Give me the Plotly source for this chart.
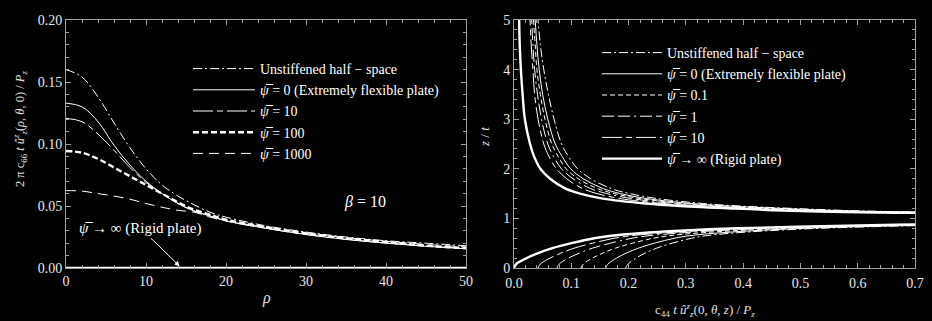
import plotly.graph_objects as go

# ---------------- Left panel data ----------------
rho = [0, 2, 4, 6, 8, 10, 12, 14, 16, 18, 20, 25, 30, 35, 40, 45, 50]
left_unstiffened = [0.160, 0.154, 0.138, 0.117, 0.097, 0.080, 0.067, 0.058, 0.051, 0.045, 0.041, 0.034, 0.029, 0.025, 0.022, 0.020, 0.018]
left_psi0 = [0.133, 0.130, 0.118, 0.099, 0.083, 0.070, 0.060, 0.052, 0.046, 0.042, 0.038, 0.032, 0.027, 0.023, 0.020, 0.0175, 0.0155]
left_psi10 = [0.1207, 0.118, 0.108, 0.095, 0.081, 0.069, 0.060, 0.052, 0.046, 0.042, 0.038, 0.032, 0.027, 0.0232, 0.0202, 0.0178, 0.0158]
left_psi100 = [0.0944, 0.093, 0.088, 0.081, 0.074, 0.067, 0.060, 0.053, 0.047, 0.043, 0.039, 0.033, 0.028, 0.024, 0.021, 0.018, 0.016]
left_psi1000 = [0.0624, 0.062, 0.060, 0.058, 0.0555, 0.052, 0.049, 0.0465, 0.045, 0.041, 0.038, 0.033, 0.028, 0.0245, 0.0215, 0.019, 0.017]
left_rigid = [0.0] * len(rho)

# ---------------- Right panel data ----------------
z_upper = [1.1, 1.15, 1.2, 1.25, 1.3, 1.4, 1.5, 1.6, 1.8, 2.0, 2.25, 2.5, 3.0, 3.5, 4.0, 4.5, 5.0]
z_lower = [0.0, 0.05, 0.1, 0.2, 0.3, 0.4, 0.5, 0.6, 0.65, 0.7, 0.75, 0.8, 0.85, 0.88, 0.9]

up_rigid = [0.78, 0.50, 0.38, 0.29, 0.23, 0.155, 0.115, 0.090, 0.063, 0.046, 0.035, 0.028, 0.019, 0.015, 0.012, 0.010, 0.009]
up_psi10 = [0.81, 0.53, 0.41, 0.32, 0.26, 0.185, 0.145, 0.120, 0.092, 0.074, 0.061, 0.052, 0.042, 0.036, 0.033, 0.030, 0.028]
up_psi1 = [0.83, 0.55, 0.43, 0.34, 0.28, 0.205, 0.162, 0.134, 0.103, 0.083, 0.069, 0.059, 0.048, 0.041, 0.036, 0.033, 0.031]
up_psi01 = [0.85, 0.57, 0.45, 0.36, 0.295, 0.220, 0.175, 0.146, 0.112, 0.091, 0.077, 0.066, 0.054, 0.046, 0.040, 0.037, 0.034]
up_psi0 = [0.87, 0.59, 0.47, 0.375, 0.31, 0.232, 0.186, 0.156, 0.121, 0.099, 0.084, 0.072, 0.059, 0.050, 0.044, 0.040, 0.037]
up_unst = [0.90, 0.61, 0.49, 0.395, 0.33, 0.250, 0.202, 0.170, 0.134, 0.111, 0.095, 0.083, 0.070, 0.060, 0.052, 0.046, 0.042]

lo_rigid = [0.0, 0.002, 0.006, 0.022, 0.042, 0.067, 0.100, 0.140, 0.170, 0.220, 0.290, 0.390, 0.560, 0.720, 0.880]
lo_psi10 = [0.042, 0.044, 0.048, 0.063, 0.082, 0.105, 0.137, 0.175, 0.204, 0.253, 0.322, 0.420, 0.585, 0.745, 0.905]
lo_psi1 = [0.075, 0.077, 0.081, 0.095, 0.114, 0.137, 0.168, 0.206, 0.234, 0.282, 0.350, 0.448, 0.610, 0.770, 0.930]
lo_psi01 = [0.117, 0.119, 0.123, 0.137, 0.155, 0.177, 0.207, 0.243, 0.270, 0.316, 0.382, 0.478, 0.635, 0.790, 0.950]
lo_psi0 = [0.160, 0.162, 0.166, 0.179, 0.196, 0.217, 0.245, 0.280, 0.306, 0.350, 0.415, 0.508, 0.660, 0.815, 0.975]
lo_unst = [0.195, 0.197, 0.201, 0.213, 0.229, 0.249, 0.276, 0.310, 0.335, 0.378, 0.442, 0.533, 0.685, 0.835, 0.995]

PSI = "<i>ψ\u0305</i>"
FONT = "Liberation Serif"
W = "white"

fig = go.Figure()

# ---- left traces ----
left_series = [
    ("Unstiffened half \u2212 space", left_unstiffened, dict(width=1, dash="9px,3px,2px,3px")),
    (PSI + " = 0 (Extremely flexible plate)", left_psi0, dict(width=1, dash="solid")),
    (PSI + " = 10", left_psi10, dict(width=1, dash="20px,4px,6px,4px")),
    (PSI + " = 100", left_psi100, dict(width=2.4, dash="6px,3px")),
    (PSI + " = 1000", left_psi1000, dict(width=1, dash="10px,6px")),
]
for name, ys, ln in left_series:
    fig.add_trace(go.Scatter(x=rho, y=ys, mode="lines", name=name,
                             line=dict(color=W, shape="spline", **ln),
                             xaxis="x", yaxis="y", legend="legend"))
fig.add_trace(go.Scatter(x=rho, y=left_rigid, mode="lines", showlegend=False,
                         line=dict(color=W, width=2.6), xaxis="x", yaxis="y",
                         cliponaxis=False))

# ---- right traces ----
right_series = [
    ("Unstiffened half \u2212 space", up_unst, lo_unst, dict(width=1, dash="9px,3px,2px,3px")),
    (PSI + " = 0 (Extremely flexible plate)", up_psi0, lo_psi0, dict(width=1, dash="solid")),
    (PSI + " = 0.1", up_psi01, lo_psi01, dict(width=1, dash="5px,3px")),
    (PSI + " = 1", up_psi1, lo_psi1, dict(width=1, dash="12px,4px,12px,4px,2px,4px")),
    (PSI + " = 10", up_psi10, lo_psi10, dict(width=1, dash="20px,4px,6px,4px")),
    (PSI + " \u2192 \u221e (Rigid plate)", up_rigid, lo_rigid, dict(width=2.4, dash="solid")),
]
for name, up, lo, ln in right_series:
    xs = list(up) + [None] + list(lo)
    zs = list(z_upper) + [None] + list(z_lower)
    fig.add_trace(go.Scatter(x=xs, y=zs, mode="lines", name=name,
                             line=dict(color=W, shape="spline", **ln),
                             connectgaps=False,
                             xaxis="x2", yaxis="y2", legend="legend2"))

axis_common = dict(
    showgrid=False, zeroline=False, showline=True, mirror="ticks",
    linecolor="#a0a0a0", linewidth=1, ticks="inside", ticklen=5, tickcolor="#a0a0a0",
    tickfont=dict(family=FONT, size=14, color="#e8e8e8"), automargin=False,
)

fig.update_layout(
    width=932, height=321,
    margin=dict(l=0, r=0, t=0, b=0),
    paper_bgcolor="black", plot_bgcolor="black",
    font=dict(family=FONT, color=W, size=14),
    xaxis=dict(domain=[66 / 932, 466 / 932], range=[0, 50], tickvals=[0, 10, 20, 30, 40, 50],
               minor=dict(dtick=2, ticks="inside", ticklen=3, tickcolor="#a0a0a0"),
               anchor="y", **axis_common),
    yaxis=dict(domain=[1 - 268 / 321, 1 - 20 / 321], range=[0, 0.2],
               tickvals=[0, 0.05, 0.1, 0.15, 0.2], tickformat=".2f",
               minor=dict(dtick=0.01, ticks="inside", ticklen=3, tickcolor="#a0a0a0"),
               anchor="x", **axis_common),
    xaxis2=dict(domain=[514 / 932, 915 / 932], range=[0, 0.7],
                tickvals=[0, 0.1, 0.2, 0.3, 0.4, 0.5, 0.6, 0.7], tickformat=".1f",
                minor=dict(dtick=0.02, ticks="inside", ticklen=3, tickcolor="#a0a0a0"),
                anchor="y2", ticklabelstandoff=2, **axis_common),
    yaxis2=dict(domain=[1 - 268 / 321, 1 - 20 / 321], range=[0, 5],
                tickvals=[0, 1, 2, 3, 4, 5],
                minor=dict(dtick=0.2, ticks="inside", ticklen=3, tickcolor="#a0a0a0"),
                anchor="x2", **axis_common),
    legend=dict(x=188 / 932, y=1 - 53 / 321, xanchor="left", yanchor="top",
                bgcolor="rgba(0,0,0,0)", font=dict(family=FONT, size=14, color=W),
                itemwidth=62, tracegroupgap=0),
    legend2=dict(x=597 / 932, y=1 - 37 / 321, xanchor="left", yanchor="top",
                 bgcolor="rgba(0,0,0,0)", font=dict(family=FONT, size=14, color=W),
                 itemwidth=60, tracegroupgap=0),
    showlegend=True,
)

ann_font = dict(family=FONT, color="#e0e0e0")
# axis titles and labels
fig.add_annotation(text="2 \u03c0 c<sub>66</sub> <i>t</i> <i>\u00fb</i><sup><i>z</i></sup><sub><i>z</i></sub>(<i>\u03c1</i>, <i>\u03b8</i>, 0) / <i>P</i><sub><i>z</i></sub>",
                   xref="paper", yref="paper", x=20 / 932, y=1 - 129 / 321,
                   xanchor="center", yanchor="middle",
                   textangle=-90, showarrow=False, font=dict(size=12.5, **ann_font))
fig.add_annotation(text="<i>\u03c1</i>", xref="paper", yref="paper", x=266 / 932, y=1 - 298 / 321,
                   xanchor="center", yanchor="middle",
                   showarrow=False, font=dict(size=16, **ann_font))
fig.add_annotation(text="<i>z</i> / <i>t</i>", xref="paper", yref="paper", x=485 / 932, y=1 - 137 / 321,
                   xanchor="center", yanchor="middle",
                   textangle=-90, showarrow=False, font=dict(size=13, **ann_font))
fig.add_annotation(text="c<sub>44</sub> <i>t</i> <i>\u00fb</i><sup><i>z</i></sup><sub><i>z</i></sub>(0, <i>\u03b8</i>, <i>z</i>) / <i>P</i><sub><i>z</i></sub>",
                   xref="paper", yref="paper", x=705 / 932, y=1 - 310 / 321,
                   xanchor="center", yanchor="middle",
                   showarrow=False, font=dict(size=13, **ann_font))
fig.add_annotation(text="<i>\u03b2</i> = 10", xref="x", yref="y", x=37.4, y=0.053,
                   showarrow=False, font=dict(family=FONT, size=16, color=W))
fig.add_annotation(text=PSI + " \u2192 \u221e (Rigid plate)", xref="x", yref="y", x=14.2, y=0.0015,
                   ax=-39, ay=-38, showarrow=True, arrowhead=2, arrowsize=1, arrowwidth=1,
                   arrowcolor=W, font=dict(family=FONT, size=15, color=W))

fig.write_html("out.html")
